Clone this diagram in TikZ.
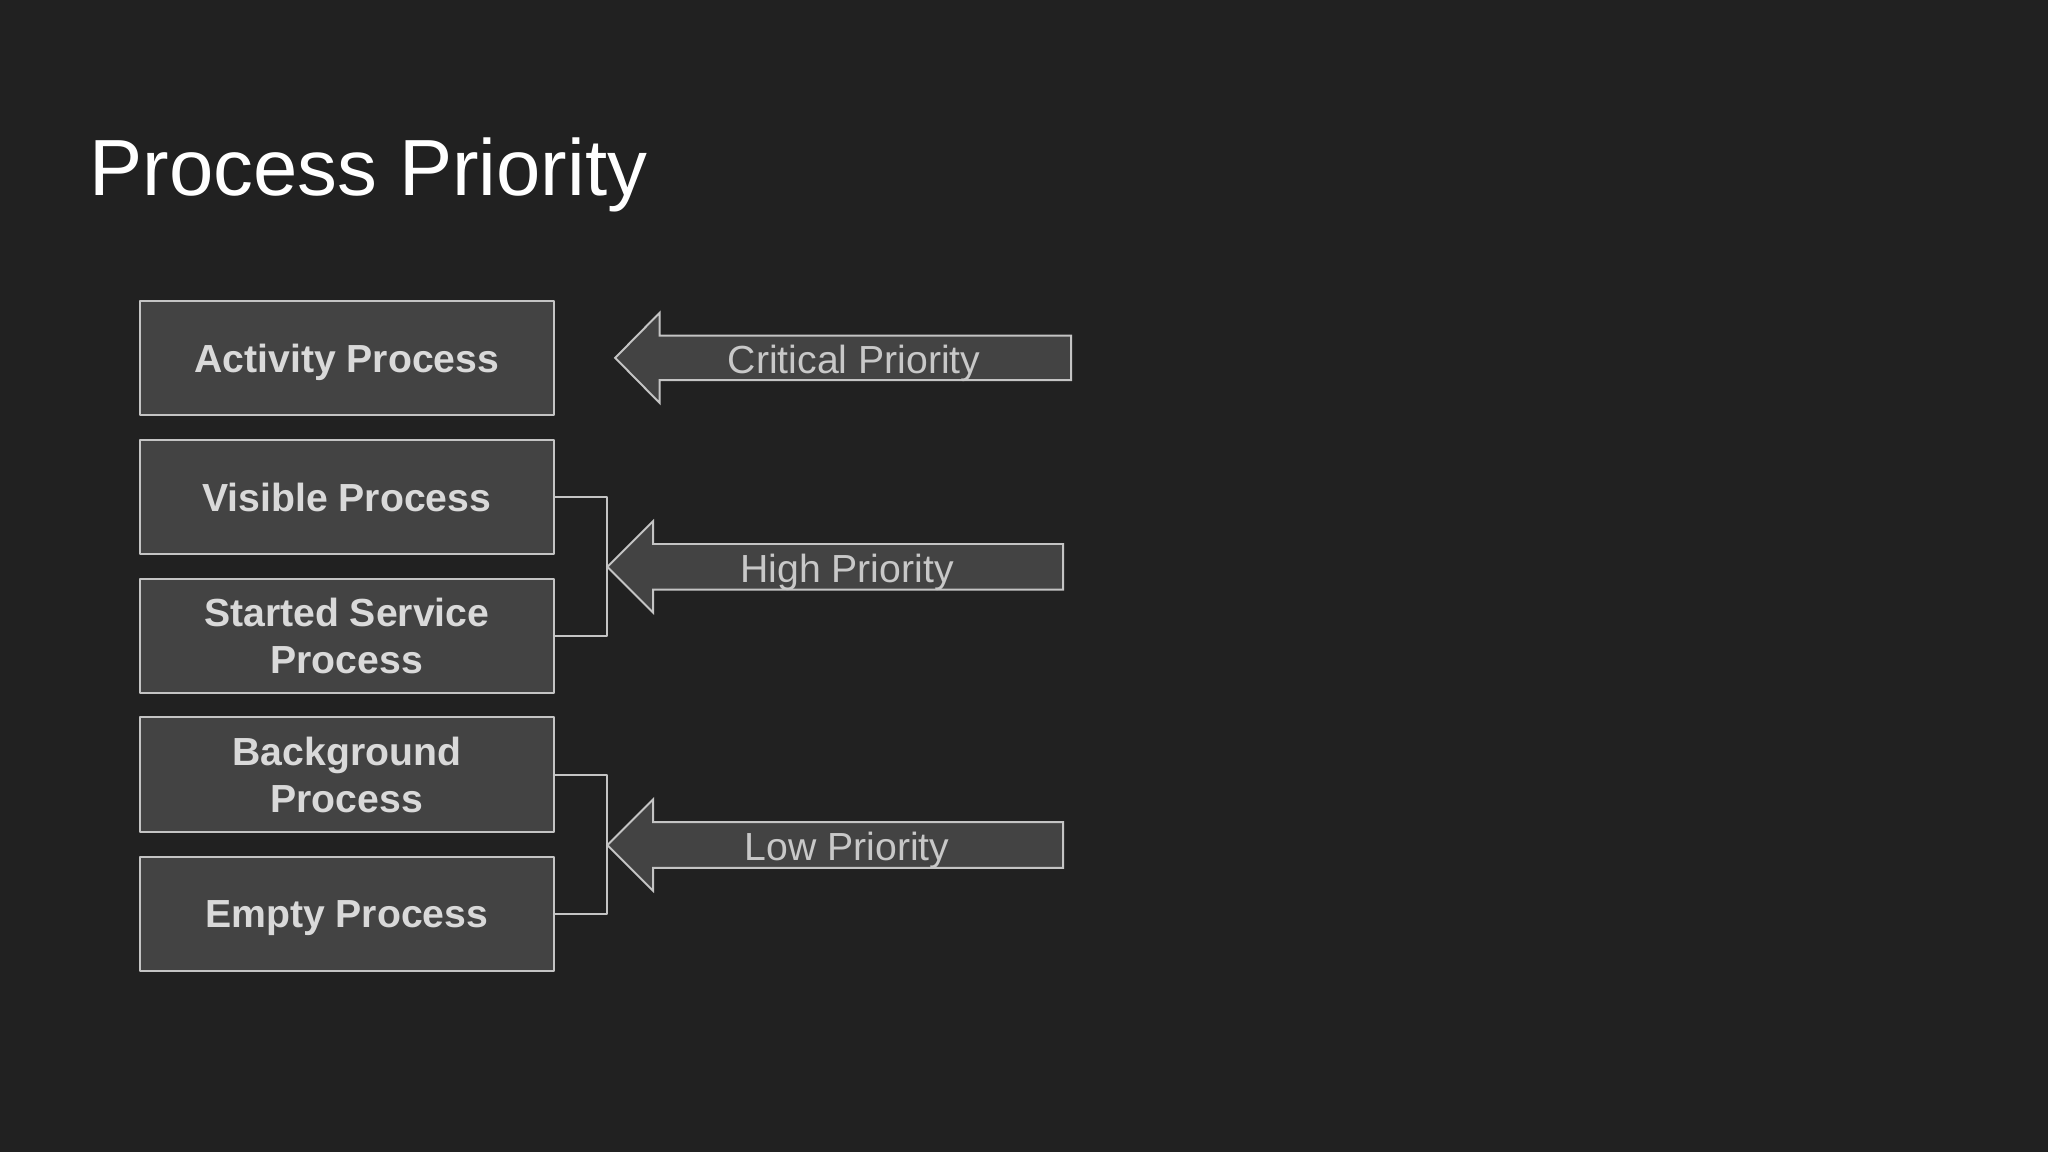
\documentclass[tikz,border=0pt]{standalone}
\usepackage{fontspec}
\setmainfont{Liberation Sans}
\definecolor{bgc}{HTML}{212121}
\definecolor{boxc}{HTML}{434343}
\definecolor{linec}{HTML}{C4C4C4}
\definecolor{txtc}{HTML}{D9D9D9}
\tikzset{
  procbox/.style={draw=linec, fill=boxc, line width=0.75pt, minimum width=158.5pt, minimum height=43.7pt,
    inner sep=0pt, align=center, text=txtc, font=\fontsize{15}{18}\selectfont\bfseries},
  oneline/.style={text depth=0pt},
  priotext/.style={text=txtc!92!black, inner sep=0pt, text depth=0pt, font=\fontsize{15}{18}\selectfont},
  prioarrow/.style={draw=linec, fill=boxc, line width=0.75pt, line join=miter},
  bracket/.style={draw=linec, line width=0.75pt}
}
\begin{document}
\begin{tikzpicture}[x=0.5pt, y=-0.5pt, line join=round]
		\fill[bgc] (0,0) rectangle (1568,882);
		\node[anchor=base west, inner sep=0pt, text=white, font=\fontsize{30.5}{36}\selectfont] (title) at (68,149.5) {Process Priority};
		% Prozesse
		\node[procbox,oneline] (act) at (265.5,274) {Activity Process};
		\node[procbox,oneline] (vis) at (265.5,380.5) {Visible Process};
		\node[procbox] (sta) at (265.5,486.8) {Started Service\\Process};
		\node[procbox] (bgp) at (265.5,593) {Background\\Process};
		\node[procbox,oneline] (emp) at (265.5,699.5) {Empty Process};
		% Pfeile
		\coordinate (crittip) at (471,274);
		\coordinate (hightip) at (465,434);
		\coordinate (lowtip) at (465,647);
		\draw[prioarrow] (crittip) -- ++(34,-34.5) -- ++(0,17.5) -- ++(315,0) -- ++(0,34) -- ++(-315,0) -- ++(0,17.5) -- cycle;
		\draw[prioarrow] (hightip) -- ++(35,-35) -- ++(0,17.5) -- ++(314,0) -- ++(0,35) -- ++(-314,0) -- ++(0,17.5) -- cycle;
		\draw[prioarrow] (lowtip) -- ++(35,-35) -- ++(0,17.5) -- ++(314,0) -- ++(0,35) -- ++(-314,0) -- ++(0,17.5) -- cycle;
		\node[priotext] (crit) at (654,275) {Critical Priority};
		\node[priotext] (high) at (648.5,435) {High Priority};
		\node[priotext] (low) at (648.5,648) {Low Priority};
		% Klammern
		\draw[bracket] (vis.east) -| (hightip) |- (sta.east);
		\draw[bracket] (bgp.east) -| (lowtip) |- (emp.east);
		\end{tikzpicture}
\end{document}
